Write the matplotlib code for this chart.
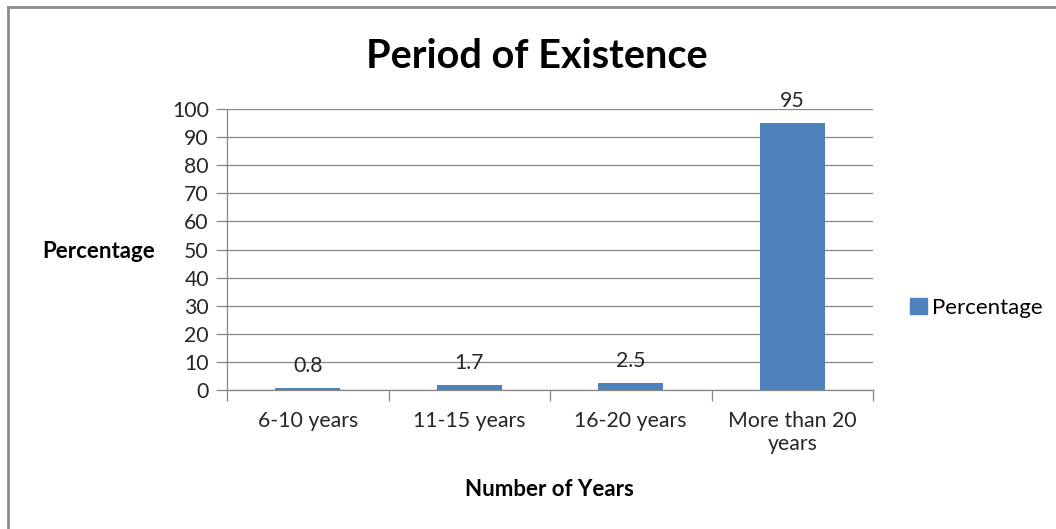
import matplotlib
matplotlib.use("Agg")
import matplotlib.pyplot as plt
from matplotlib.lines import Line2D

categories = ["6-10 years", "11-15 years", "16-20 years", "More than 20\nyears"]
percentages = [0.8, 1.7, 2.5, 95]
y_ticks = list(range(0, 101, 10))
series_name = "Percentage"

W, H = 1056, 529
plt.rcParams["font.family"] = ["Lato", "DejaVu Sans"]

fig = plt.figure(figsize=(W / 100, H / 100), dpi=100)

# plot area in pixel coordinates
left, right, top, bottom = 227, 873, 109, 390
ax = fig.add_axes([left / W, 1 - bottom / H, (right - left) / W, (bottom - top) / H])

bar_color = "#4F81BD"
grid_color = "#868686"
text_color = "#262626"
tick_fs = 15.3
x = list(range(len(categories)))
bars = ax.bar(x, percentages, width=0.4, color=bar_color, zorder=3, label=series_name)

ax.set_xlim(-0.5, len(categories) - 0.5)
ax.set_ylim(0, 100)
ax.set_yticks(y_ticks)
ax.set_yticklabels([str(v) for v in y_ticks], fontsize=tick_fs, color=text_color)
ax.yaxis.grid(True, color=grid_color, linewidth=0.9, zorder=0)
ax.tick_params(axis="y", length=8, width=0.9, color=grid_color, pad=5)

# category ticks sit between the bars
ax.set_xticks([i - 0.5 for i in range(len(categories) + 1)], minor=False)
ax.set_xticklabels([])
ax.tick_params(axis="x", which="major", length=8, width=0.9, color=grid_color)
ax.set_xticks(x, minor=True)
ax.set_xticklabels(categories, minor=True, fontsize=tick_fs, color=text_color, linespacing=1.2)
ax.tick_params(axis="x", which="minor", length=0, pad=15)
for lab in ax.get_xticklabels(minor=True):
    lab.set_verticalalignment("top")

for s in ["top", "right"]:
    ax.spines[s].set_visible(False)
for s in ["left", "bottom"]:
    ax.spines[s].set_color(grid_color)
    ax.spines[s].set_linewidth(0.9)

for b, v in zip(bars, percentages):
    ax.annotate(f"{v:g}", (b.get_x() + b.get_width() / 2, v), xytext=(0, 8.5),
                textcoords="offset points", ha="center", va="bottom",
                fontsize=tick_fs, color=text_color)

fig.text(537 / W, 1 - 56 / H, "Period of Existence", ha="center", va="center",
         fontsize=28.5, fontweight="bold", color="black")
fig.text(99 / W, 1 - 251 / H, "Percentage", ha="center", va="center",
         fontsize=16, fontweight="bold", color="black")
fig.text(549 / W, 1 - 489 / H, "Number of Years", ha="center", va="center",
         fontsize=16, fontweight="bold", color="black")

handle = plt.Rectangle((0, 0), 1, 1, color=bar_color)
fig.legend([handle], [series_name], loc="center left",
           bbox_to_anchor=(910 / W, 1 - 308 / H), frameon=False,
           fontsize=16, handlelength=0.75, handleheight=0.75, handletextpad=0.25,
           borderpad=0, borderaxespad=0)

# chart frame
fig.add_artist(Line2D([8 / W, 8 / W], [0, 1 - 7 / H], transform=fig.transFigure,
                      color="#8c8c8c", linewidth=2))
fig.add_artist(Line2D([8 / W, 1], [1 - 7 / H, 1 - 7 / H], transform=fig.transFigure,
                      color="#8c8c8c", linewidth=2))

fig.savefig("out.png", dpi=100, facecolor="white")
